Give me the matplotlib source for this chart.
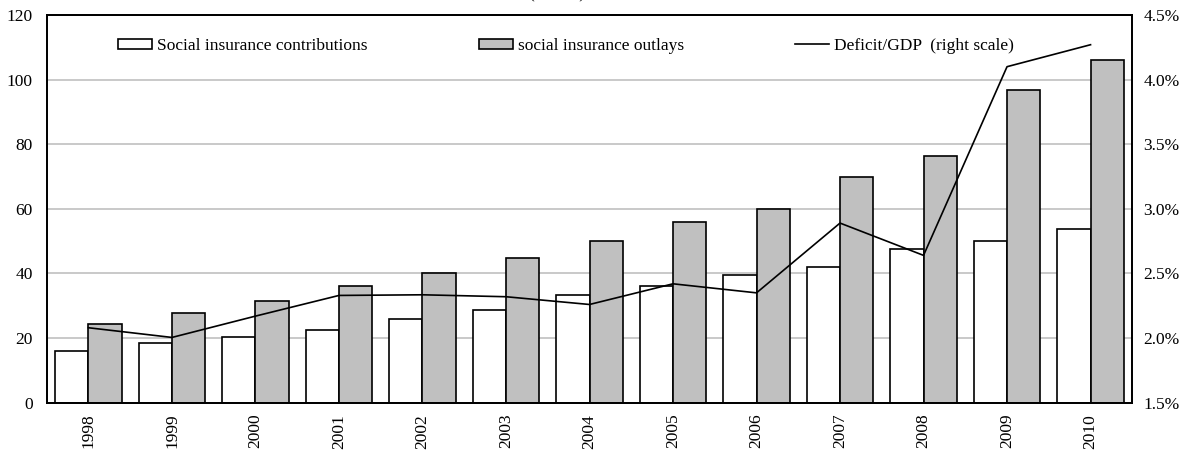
import matplotlib
matplotlib.use("Agg")
import matplotlib.pyplot as plt
import numpy as np
from matplotlib.patches import Patch
from matplotlib.lines import Line2D

years = ["1998", "1999", "2000", "2001", "2002", "2003", "2004",
         "2005", "2006", "2007", "2008", "2009", "2010"]
contributions = [15.9, 18.5, 20.2, 22.6, 25.8, 28.7, 33.3,
                 36.2, 39.4, 42.1, 47.6, 49.9, 53.9]
outlays = [24.4, 27.7, 31.4, 36.1, 40.2, 44.8, 50.2,
           56.0, 60.1, 70.0, 76.3, 96.8, 106.2]
deficit_gdp = [2.08, 2.005, 2.17, 2.33, 2.335, 2.32, 2.26,
               2.42, 2.35, 2.89, 2.64, 4.10, 4.27]  # percent

plt.rcParams["font.family"] = ["Liberation Serif", "DejaVu Serif"]
plt.rcParams["font.size"] = 12.5

fig = plt.figure(figsize=(11.87, 4.53), dpi=100)
ax1 = fig.add_axes([46.7 / 1187, 50.3 / 453, (1132.3 - 46.7) / 1187, (402.7 - 15) / 453])

x = np.arange(len(years))
w = 0.4
gray = "#c0c0c0"
ax1.bar(x - w / 2, contributions, w, color="white", edgecolor="black", lw=1.2, zorder=2)
ax1.bar(x + w / 2, outlays, w, color=gray, edgecolor="black", lw=1.2, zorder=2)

ax1.set_xlim(-0.5, len(years) - 0.5)
ax1.set_ylim(0, 120)
ax1.set_yticks(range(0, 121, 20))
ax1.set_xticks(x)
ax1.set_xticklabels(years, rotation=90)
ax1.yaxis.grid(True, color=gray, lw=1.2, zorder=0)
ax1.set_axisbelow(True)
ax1.tick_params(axis="y", length=0, pad=10)
ax1.tick_params(axis="x", length=0, pad=8)
for s in ax1.spines.values():
    s.set_linewidth(1.3)

# deficit ratio on the secondary scale
ax2 = ax1.twinx()
ax2.plot(x, deficit_gdp, color="black", lw=1.2)
ax2.set_ylim(1.5, 4.5)
ax2.set_yticks(np.arange(1.5, 4.51, 0.5))
ax2.set_yticklabels(["{:.1f}%".format(v) for v in np.arange(1.5, 4.51, 0.5)])
ax2.tick_params(axis="y", length=0, pad=8)
for s in ax2.spines.values():
    s.set_linewidth(1.3)

handles = [
    Patch(facecolor="white", edgecolor="black", lw=1.2),
    Patch(facecolor=gray, edgecolor="black", lw=1.2),
    Line2D([], [], color="black", lw=1.2),
]
labels = ["Social insurance contributions", "social insurance outlays",
          "Deficit/GDP  (right scale)"]
fig.legend(handles, labels, loc="center left", ncol=3,
           bbox_to_anchor=(118 / 1187, 1 - 46 / 453),
           frameon=False, borderpad=0, borderaxespad=0,
           handlelength=1.96, handleheight=0.55, handletextpad=0.29,
           columnspacing=6.4)

fig.text(528 / 1187, 1.0 + 3 / 453, "(billion)", ha="left", va="baseline")

fig.savefig("out.png", dpi=100)
